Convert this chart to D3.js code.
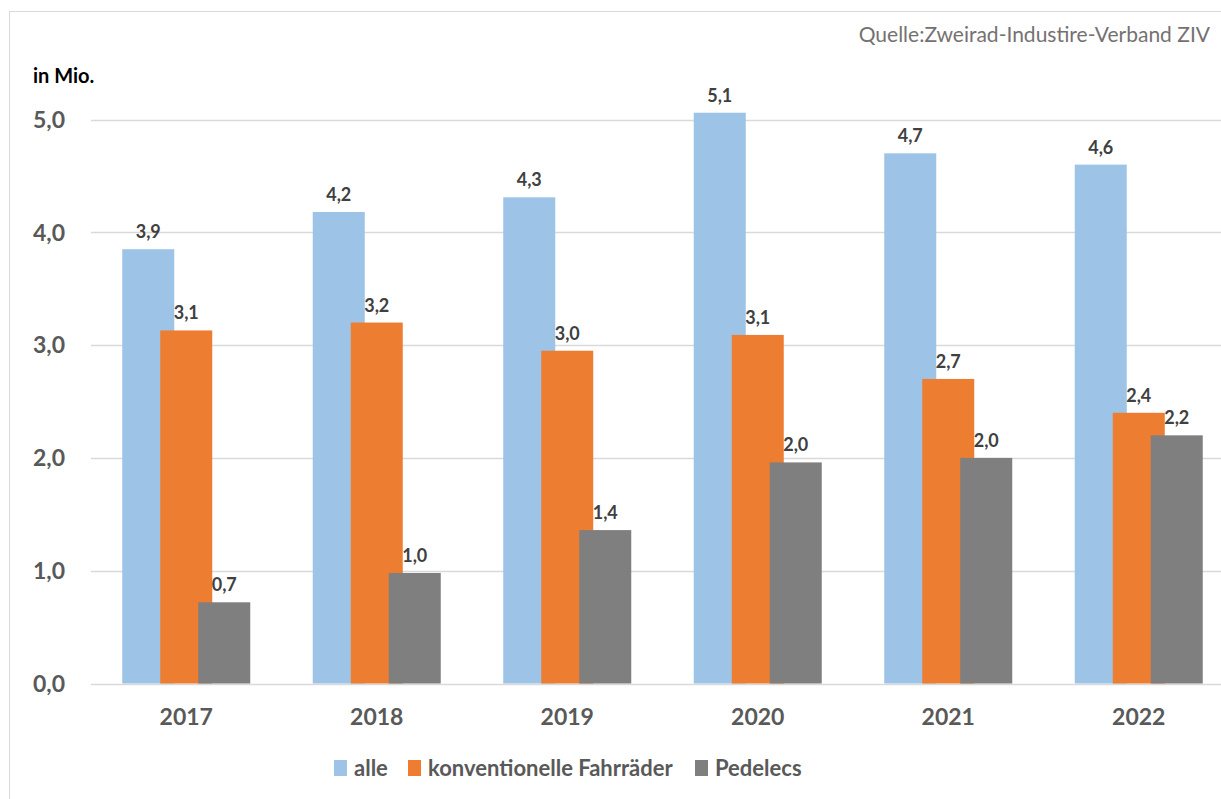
<!DOCTYPE html>
<html>
<head>
<meta charset="utf-8">
<title>Fahrradverkauf</title>
<script src="https://cdn.jsdelivr.net/npm/d3@7"></script>
<style>
  body { margin: 0; background: #fff; }
  text { font-family: Lato, "Open Sans", sans-serif; }
</style>
</head>
<body>
<div id="chart"></div>
<script>
// data (million units)
var years = ["2017", "2018", "2019", "2020", "2021", "2022"];
var series = ["alle", "konventionelle Fahrräder", "Pedelecs"];
var alle = [3.85, 4.18, 4.31, 5.06, 4.70, 4.60];
var konventionell = [3.13, 3.20, 2.95, 3.09, 2.70, 2.40];
var pedelecs = [0.72, 0.98, 1.36, 1.96, 2.00, 2.20];
var yTicks = [0, 1, 2, 3, 4, 5];
var colors = ["#9DC3E6", "#ED7D31", "#7F7F7F"];

var width = 1221, height = 799;
var values = [alle, konventionell, pedelecs];

var svg = d3.select("#chart").append("svg")
    .attr("width", width)
    .attr("height", height);

// outer frame
svg.append("rect")
    .attr("x", 9.5).attr("y", 11.5)
    .attr("width", width).attr("height", height)
    .attr("fill", "none")
    .attr("stroke", "#d9d9d9");

var x = d3.scaleBand().domain(years).range([91, 1234]);
var off = d3.scalePoint().domain(series).range([-38, 38]);
var barW = 52;
var y = d3.scaleLinear().domain([0, 5]).range([683.5, 119.5]);
var fmt = function(v) { return d3.format(".1f")(v).replace(".", ","); };

// gridlines
svg.append("g").selectAll("line")
    .data(yTicks).enter().append("line")
    .attr("x1", 91).attr("x2", width)
    .attr("y1", function(d) { return Math.round(y(d)) + 0.5; })
    .attr("y2", function(d) { return Math.round(y(d)) + 0.5; })
    .attr("stroke", "#d9d9d9")
    .attr("stroke-width", 1.3);

// y labels
svg.append("g").selectAll("text")
    .data(yTicks).enter().append("text")
    .attr("x", 65)
    .attr("y", function(d) { return y(d); })
    .attr("dy", "0.36em")
    .attr("text-anchor", "end")
    .attr("font-size", 23)
    .attr("font-weight", "bold")
    .attr("fill", "#595959")
    .text(fmt);

// bars, one series after the other so later ones sit on top
series.forEach(function(s, i) {
    var g = svg.append("g");
    g.selectAll("rect")
        .data(values[i]).enter().append("rect")
        .attr("x", function(d, j) { return x(years[j]) + x.bandwidth() / 2 + off(s) - barW / 2; })
        .attr("y", function(d) { return y(d); })
        .attr("width", barW)
        .attr("height", function(d) { return y(0) - y(d); })
        .attr("fill", colors[i]);
    g.selectAll("text")
        .data(values[i]).enter().append("text")
        .attr("x", function(d, j) { return x(years[j]) + x.bandwidth() / 2 + off(s); })
        .attr("y", function(d) { return y(d) - 11; })
        .attr("text-anchor", "middle")
        .attr("font-size", 18)
        .attr("font-weight", "bold")
        .attr("fill", "#404040")
        .text(fmt);
});

// x labels
svg.append("g").selectAll("text")
    .data(years).enter().append("text")
    .attr("x", function(d) { return x(d) + x.bandwidth() / 2; })
    .attr("y", 725)
    .attr("text-anchor", "middle")
    .attr("font-size", 23)
    .attr("font-weight", "bold")
    .attr("fill", "#595959")
    .text(function(d) { return d; });

// unit and source
svg.append("text")
    .attr("x", 33).attr("y", 83)
    .attr("font-size", 20)
    .attr("font-weight", "bold")
    .attr("fill", "#000")
    .text("in Mio.");

svg.append("text")
    .attr("x", 1210).attr("y", 42)
    .attr("text-anchor", "end")
    .attr("font-size", 21)
    .attr("fill", "#767171")
    .text("Quelle:Zweirad-Industire-Verband ZIV");

// legend
var legendX = [334, 408, 695];
var leg = svg.append("g").selectAll("g")
    .data(series).enter().append("g")
    .attr("transform", function(d, i) { return "translate(" + legendX[i] + ",760)"; });
leg.append("rect")
    .attr("width", 13).attr("height", 16)
    .attr("fill", function(d, i) { return colors[i]; });
leg.append("text")
    .attr("x", 20).attr("y", 16)
    .attr("font-size", 22)
    .attr("font-weight", "bold")
    .attr("fill", "#595959")
    .text(function(d) { return d; });
</script>
</body>
</html>
